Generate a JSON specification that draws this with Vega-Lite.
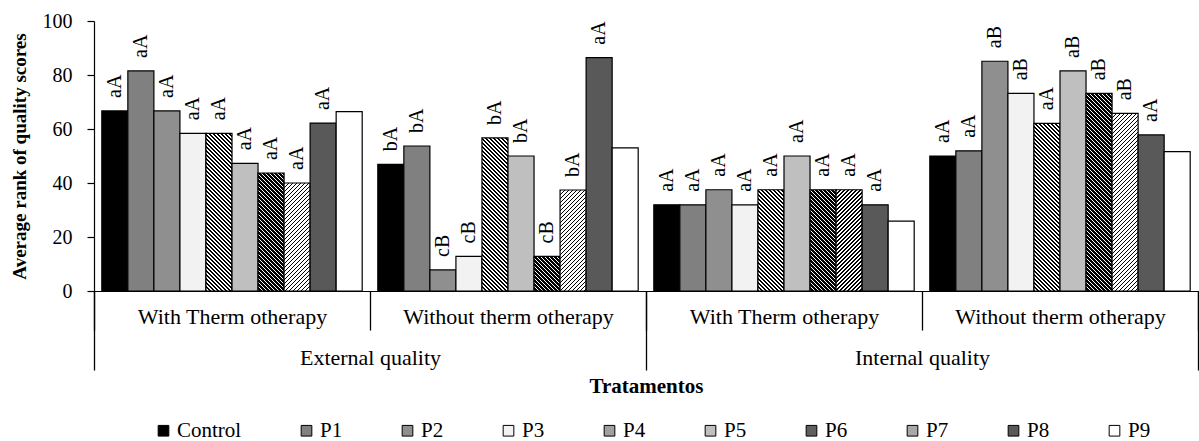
{
  "$schema": "https://vega.github.io/schema/vega-lite/v6.json",
  "width": 1104,
  "height": 270,
  "autosize": {"type": "none"},
  "padding": {"left": 94, "top": 21, "right": 1, "bottom": 150},
  "background": "white",
  "config": {"view": {"stroke": null}, "font": "Liberation Serif", "axis": {"grid": false}},
  "params": [
    {"name": "thinStops", "value": [
{"offset":0,"color":"#000"},{"offset":0.006,"color":"#000"},{"offset":0.006,"color":"#fff"},{"offset":0.016,"color":"#fff"},
{"offset":0.016,"color":"#000"},{"offset":0.022,"color":"#000"},{"offset":0.022,"color":"#fff"},{"offset":0.032,"color":"#fff"},
{"offset":0.032,"color":"#000"},{"offset":0.038,"color":"#000"},{"offset":0.038,"color":"#fff"},{"offset":0.048,"color":"#fff"},
{"offset":0.048,"color":"#000"},{"offset":0.054,"color":"#000"},{"offset":0.054,"color":"#fff"},{"offset":0.064,"color":"#fff"},
{"offset":0.064,"color":"#000"},{"offset":0.07,"color":"#000"},{"offset":0.07,"color":"#fff"},{"offset":0.08,"color":"#fff"},
{"offset":0.08,"color":"#000"},{"offset":0.086,"color":"#000"},{"offset":0.086,"color":"#fff"},{"offset":0.096,"color":"#fff"},
{"offset":0.096,"color":"#000"},{"offset":0.102,"color":"#000"},{"offset":0.102,"color":"#fff"},{"offset":0.112,"color":"#fff"},
{"offset":0.112,"color":"#000"},{"offset":0.118,"color":"#000"},{"offset":0.118,"color":"#fff"},{"offset":0.128,"color":"#fff"},
{"offset":0.128,"color":"#000"},{"offset":0.134,"color":"#000"},{"offset":0.134,"color":"#fff"},{"offset":0.144,"color":"#fff"},
{"offset":0.144,"color":"#000"},{"offset":0.15,"color":"#000"},{"offset":0.15,"color":"#fff"},{"offset":0.16,"color":"#fff"},
{"offset":0.16,"color":"#000"},{"offset":0.166,"color":"#000"},{"offset":0.166,"color":"#fff"},{"offset":0.176,"color":"#fff"},
{"offset":0.176,"color":"#000"},{"offset":0.182,"color":"#000"},{"offset":0.182,"color":"#fff"},{"offset":0.192,"color":"#fff"},
{"offset":0.192,"color":"#000"},{"offset":0.198,"color":"#000"},{"offset":0.198,"color":"#fff"},{"offset":0.208,"color":"#fff"},
{"offset":0.208,"color":"#000"},{"offset":0.214,"color":"#000"},{"offset":0.214,"color":"#fff"},{"offset":0.224,"color":"#fff"},
{"offset":0.224,"color":"#000"},{"offset":0.23,"color":"#000"},{"offset":0.23,"color":"#fff"},{"offset":0.24,"color":"#fff"},
{"offset":0.24,"color":"#000"},{"offset":0.246,"color":"#000"},{"offset":0.246,"color":"#fff"},{"offset":0.256,"color":"#fff"},
{"offset":0.256,"color":"#000"},{"offset":0.262,"color":"#000"},{"offset":0.262,"color":"#fff"},{"offset":0.272,"color":"#fff"},
{"offset":0.272,"color":"#000"},{"offset":0.278,"color":"#000"},{"offset":0.278,"color":"#fff"},{"offset":0.288,"color":"#fff"},
{"offset":0.288,"color":"#000"},{"offset":0.294,"color":"#000"},{"offset":0.294,"color":"#fff"},{"offset":0.304,"color":"#fff"},
{"offset":0.304,"color":"#000"},{"offset":0.31,"color":"#000"},{"offset":0.31,"color":"#fff"},{"offset":0.32,"color":"#fff"},
{"offset":0.32,"color":"#000"},{"offset":0.326,"color":"#000"},{"offset":0.326,"color":"#fff"},{"offset":0.336,"color":"#fff"},
{"offset":0.336,"color":"#000"},{"offset":0.342,"color":"#000"},{"offset":0.342,"color":"#fff"},{"offset":0.352,"color":"#fff"},
{"offset":0.352,"color":"#000"},{"offset":0.358,"color":"#000"},{"offset":0.358,"color":"#fff"},{"offset":0.368,"color":"#fff"},
{"offset":0.368,"color":"#000"},{"offset":0.374,"color":"#000"},{"offset":0.374,"color":"#fff"},{"offset":0.384,"color":"#fff"},
{"offset":0.384,"color":"#000"},{"offset":0.39,"color":"#000"},{"offset":0.39,"color":"#fff"},{"offset":0.4,"color":"#fff"},
{"offset":0.4,"color":"#000"},{"offset":0.406,"color":"#000"},{"offset":0.406,"color":"#fff"},{"offset":0.416,"color":"#fff"},
{"offset":0.416,"color":"#000"},{"offset":0.422,"color":"#000"},{"offset":0.422,"color":"#fff"},{"offset":0.432,"color":"#fff"},
{"offset":0.432,"color":"#000"},{"offset":0.438,"color":"#000"},{"offset":0.438,"color":"#fff"},{"offset":0.448,"color":"#fff"},
{"offset":0.448,"color":"#000"},{"offset":0.454,"color":"#000"},{"offset":0.454,"color":"#fff"},{"offset":0.464,"color":"#fff"},
{"offset":0.464,"color":"#000"},{"offset":0.47,"color":"#000"},{"offset":0.47,"color":"#fff"},{"offset":0.48,"color":"#fff"},
{"offset":0.48,"color":"#000"},{"offset":0.486,"color":"#000"},{"offset":0.486,"color":"#fff"},{"offset":0.496,"color":"#fff"},
{"offset":0.496,"color":"#000"},{"offset":0.502,"color":"#000"},{"offset":0.502,"color":"#fff"},{"offset":0.512,"color":"#fff"},
{"offset":0.512,"color":"#000"},{"offset":0.518,"color":"#000"},{"offset":0.518,"color":"#fff"},{"offset":0.528,"color":"#fff"},
{"offset":0.528,"color":"#000"},{"offset":0.534,"color":"#000"},{"offset":0.534,"color":"#fff"},{"offset":0.544,"color":"#fff"},
{"offset":0.544,"color":"#000"},{"offset":0.55,"color":"#000"},{"offset":0.55,"color":"#fff"},{"offset":0.56,"color":"#fff"},
{"offset":0.56,"color":"#000"},{"offset":0.566,"color":"#000"},{"offset":0.566,"color":"#fff"},{"offset":0.576,"color":"#fff"},
{"offset":0.576,"color":"#000"},{"offset":0.582,"color":"#000"},{"offset":0.582,"color":"#fff"},{"offset":0.592,"color":"#fff"},
{"offset":0.592,"color":"#000"},{"offset":0.598,"color":"#000"},{"offset":0.598,"color":"#fff"},{"offset":0.608,"color":"#fff"},
{"offset":0.608,"color":"#000"},{"offset":0.614,"color":"#000"},{"offset":0.614,"color":"#fff"},{"offset":0.624,"color":"#fff"},
{"offset":0.624,"color":"#000"},{"offset":0.63,"color":"#000"},{"offset":0.63,"color":"#fff"},{"offset":0.64,"color":"#fff"},
{"offset":0.64,"color":"#000"},{"offset":0.646,"color":"#000"},{"offset":0.646,"color":"#fff"},{"offset":0.656,"color":"#fff"},
{"offset":0.656,"color":"#000"},{"offset":0.662,"color":"#000"},{"offset":0.662,"color":"#fff"},{"offset":0.672,"color":"#fff"},
{"offset":0.672,"color":"#000"},{"offset":0.678,"color":"#000"},{"offset":0.678,"color":"#fff"},{"offset":0.688,"color":"#fff"},
{"offset":0.688,"color":"#000"},{"offset":0.694,"color":"#000"},{"offset":0.694,"color":"#fff"},{"offset":0.704,"color":"#fff"},
{"offset":0.704,"color":"#000"},{"offset":0.71,"color":"#000"},{"offset":0.71,"color":"#fff"},{"offset":0.72,"color":"#fff"},
{"offset":0.72,"color":"#000"},{"offset":0.726,"color":"#000"},{"offset":0.726,"color":"#fff"},{"offset":0.736,"color":"#fff"},
{"offset":0.736,"color":"#000"},{"offset":0.742,"color":"#000"},{"offset":0.742,"color":"#fff"},{"offset":0.752,"color":"#fff"},
{"offset":0.752,"color":"#000"},{"offset":0.758,"color":"#000"},{"offset":0.758,"color":"#fff"},{"offset":0.768,"color":"#fff"},
{"offset":0.768,"color":"#000"},{"offset":0.774,"color":"#000"},{"offset":0.774,"color":"#fff"},{"offset":0.784,"color":"#fff"},
{"offset":0.784,"color":"#000"},{"offset":0.79,"color":"#000"},{"offset":0.79,"color":"#fff"},{"offset":0.8,"color":"#fff"},
{"offset":0.8,"color":"#000"},{"offset":0.806,"color":"#000"},{"offset":0.806,"color":"#fff"},{"offset":0.816,"color":"#fff"},
{"offset":0.816,"color":"#000"},{"offset":0.822,"color":"#000"},{"offset":0.822,"color":"#fff"},{"offset":0.832,"color":"#fff"},
{"offset":0.832,"color":"#000"},{"offset":0.838,"color":"#000"},{"offset":0.838,"color":"#fff"},{"offset":0.848,"color":"#fff"}
    ]},
    {"name": "thickStops", "value": [
{"offset":0,"color":"#fff"},{"offset":0.006,"color":"#fff"},{"offset":0.006,"color":"#000"},{"offset":0.016,"color":"#000"},
{"offset":0.016,"color":"#fff"},{"offset":0.022,"color":"#fff"},{"offset":0.022,"color":"#000"},{"offset":0.032,"color":"#000"},
{"offset":0.032,"color":"#fff"},{"offset":0.038,"color":"#fff"},{"offset":0.038,"color":"#000"},{"offset":0.048,"color":"#000"},
{"offset":0.048,"color":"#fff"},{"offset":0.054,"color":"#fff"},{"offset":0.054,"color":"#000"},{"offset":0.064,"color":"#000"},
{"offset":0.064,"color":"#fff"},{"offset":0.07,"color":"#fff"},{"offset":0.07,"color":"#000"},{"offset":0.08,"color":"#000"},
{"offset":0.08,"color":"#fff"},{"offset":0.086,"color":"#fff"},{"offset":0.086,"color":"#000"},{"offset":0.096,"color":"#000"},
{"offset":0.096,"color":"#fff"},{"offset":0.102,"color":"#fff"},{"offset":0.102,"color":"#000"},{"offset":0.112,"color":"#000"},
{"offset":0.112,"color":"#fff"},{"offset":0.118,"color":"#fff"},{"offset":0.118,"color":"#000"},{"offset":0.128,"color":"#000"},
{"offset":0.128,"color":"#fff"},{"offset":0.134,"color":"#fff"},{"offset":0.134,"color":"#000"},{"offset":0.144,"color":"#000"},
{"offset":0.144,"color":"#fff"},{"offset":0.15,"color":"#fff"},{"offset":0.15,"color":"#000"},{"offset":0.16,"color":"#000"},
{"offset":0.16,"color":"#fff"},{"offset":0.166,"color":"#fff"},{"offset":0.166,"color":"#000"},{"offset":0.176,"color":"#000"},
{"offset":0.176,"color":"#fff"},{"offset":0.182,"color":"#fff"},{"offset":0.182,"color":"#000"},{"offset":0.192,"color":"#000"},
{"offset":0.192,"color":"#fff"},{"offset":0.198,"color":"#fff"},{"offset":0.198,"color":"#000"},{"offset":0.208,"color":"#000"},
{"offset":0.208,"color":"#fff"},{"offset":0.214,"color":"#fff"},{"offset":0.214,"color":"#000"},{"offset":0.224,"color":"#000"},
{"offset":0.224,"color":"#fff"},{"offset":0.23,"color":"#fff"},{"offset":0.23,"color":"#000"},{"offset":0.24,"color":"#000"},
{"offset":0.24,"color":"#fff"},{"offset":0.246,"color":"#fff"},{"offset":0.246,"color":"#000"},{"offset":0.256,"color":"#000"},
{"offset":0.256,"color":"#fff"},{"offset":0.262,"color":"#fff"},{"offset":0.262,"color":"#000"},{"offset":0.272,"color":"#000"},
{"offset":0.272,"color":"#fff"},{"offset":0.278,"color":"#fff"},{"offset":0.278,"color":"#000"},{"offset":0.288,"color":"#000"},
{"offset":0.288,"color":"#fff"},{"offset":0.294,"color":"#fff"},{"offset":0.294,"color":"#000"},{"offset":0.304,"color":"#000"},
{"offset":0.304,"color":"#fff"},{"offset":0.31,"color":"#fff"},{"offset":0.31,"color":"#000"},{"offset":0.32,"color":"#000"},
{"offset":0.32,"color":"#fff"},{"offset":0.326,"color":"#fff"},{"offset":0.326,"color":"#000"},{"offset":0.336,"color":"#000"},
{"offset":0.336,"color":"#fff"},{"offset":0.342,"color":"#fff"},{"offset":0.342,"color":"#000"},{"offset":0.352,"color":"#000"},
{"offset":0.352,"color":"#fff"},{"offset":0.358,"color":"#fff"},{"offset":0.358,"color":"#000"},{"offset":0.368,"color":"#000"},
{"offset":0.368,"color":"#fff"},{"offset":0.374,"color":"#fff"},{"offset":0.374,"color":"#000"},{"offset":0.384,"color":"#000"},
{"offset":0.384,"color":"#fff"},{"offset":0.39,"color":"#fff"},{"offset":0.39,"color":"#000"},{"offset":0.4,"color":"#000"},
{"offset":0.4,"color":"#fff"},{"offset":0.406,"color":"#fff"},{"offset":0.406,"color":"#000"},{"offset":0.416,"color":"#000"},
{"offset":0.416,"color":"#fff"},{"offset":0.422,"color":"#fff"},{"offset":0.422,"color":"#000"},{"offset":0.432,"color":"#000"},
{"offset":0.432,"color":"#fff"},{"offset":0.438,"color":"#fff"},{"offset":0.438,"color":"#000"},{"offset":0.448,"color":"#000"},
{"offset":0.448,"color":"#fff"},{"offset":0.454,"color":"#fff"},{"offset":0.454,"color":"#000"},{"offset":0.464,"color":"#000"},
{"offset":0.464,"color":"#fff"},{"offset":0.47,"color":"#fff"},{"offset":0.47,"color":"#000"},{"offset":0.48,"color":"#000"},
{"offset":0.48,"color":"#fff"},{"offset":0.486,"color":"#fff"},{"offset":0.486,"color":"#000"},{"offset":0.496,"color":"#000"},
{"offset":0.496,"color":"#fff"},{"offset":0.502,"color":"#fff"},{"offset":0.502,"color":"#000"},{"offset":0.512,"color":"#000"},
{"offset":0.512,"color":"#fff"},{"offset":0.518,"color":"#fff"},{"offset":0.518,"color":"#000"},{"offset":0.528,"color":"#000"},
{"offset":0.528,"color":"#fff"},{"offset":0.534,"color":"#fff"},{"offset":0.534,"color":"#000"},{"offset":0.544,"color":"#000"},
{"offset":0.544,"color":"#fff"},{"offset":0.55,"color":"#fff"},{"offset":0.55,"color":"#000"},{"offset":0.56,"color":"#000"},
{"offset":0.56,"color":"#fff"},{"offset":0.566,"color":"#fff"},{"offset":0.566,"color":"#000"},{"offset":0.576,"color":"#000"},
{"offset":0.576,"color":"#fff"},{"offset":0.582,"color":"#fff"},{"offset":0.582,"color":"#000"},{"offset":0.592,"color":"#000"},
{"offset":0.592,"color":"#fff"},{"offset":0.598,"color":"#fff"},{"offset":0.598,"color":"#000"},{"offset":0.608,"color":"#000"},
{"offset":0.608,"color":"#fff"},{"offset":0.614,"color":"#fff"},{"offset":0.614,"color":"#000"},{"offset":0.624,"color":"#000"},
{"offset":0.624,"color":"#fff"},{"offset":0.63,"color":"#fff"},{"offset":0.63,"color":"#000"},{"offset":0.64,"color":"#000"},
{"offset":0.64,"color":"#fff"},{"offset":0.646,"color":"#fff"},{"offset":0.646,"color":"#000"},{"offset":0.656,"color":"#000"},
{"offset":0.656,"color":"#fff"},{"offset":0.662,"color":"#fff"},{"offset":0.662,"color":"#000"},{"offset":0.672,"color":"#000"},
{"offset":0.672,"color":"#fff"},{"offset":0.678,"color":"#fff"},{"offset":0.678,"color":"#000"},{"offset":0.688,"color":"#000"},
{"offset":0.688,"color":"#fff"},{"offset":0.694,"color":"#fff"},{"offset":0.694,"color":"#000"},{"offset":0.704,"color":"#000"},
{"offset":0.704,"color":"#fff"},{"offset":0.71,"color":"#fff"},{"offset":0.71,"color":"#000"},{"offset":0.72,"color":"#000"},
{"offset":0.72,"color":"#fff"},{"offset":0.726,"color":"#fff"},{"offset":0.726,"color":"#000"},{"offset":0.736,"color":"#000"},
{"offset":0.736,"color":"#fff"},{"offset":0.742,"color":"#fff"},{"offset":0.742,"color":"#000"},{"offset":0.752,"color":"#000"},
{"offset":0.752,"color":"#fff"},{"offset":0.758,"color":"#fff"},{"offset":0.758,"color":"#000"},{"offset":0.768,"color":"#000"},
{"offset":0.768,"color":"#fff"},{"offset":0.774,"color":"#fff"},{"offset":0.774,"color":"#000"},{"offset":0.784,"color":"#000"},
{"offset":0.784,"color":"#fff"},{"offset":0.79,"color":"#fff"},{"offset":0.79,"color":"#000"},{"offset":0.8,"color":"#000"},
{"offset":0.8,"color":"#fff"},{"offset":0.806,"color":"#fff"},{"offset":0.806,"color":"#000"},{"offset":0.816,"color":"#000"},
{"offset":0.816,"color":"#fff"},{"offset":0.822,"color":"#fff"},{"offset":0.822,"color":"#000"},{"offset":0.832,"color":"#000"},
{"offset":0.832,"color":"#fff"},{"offset":0.838,"color":"#fff"},{"offset":0.838,"color":"#000"},{"offset":0.848,"color":"#000"},
{"offset":0.848,"color":"#fff"},{"offset":0.854,"color":"#fff"},{"offset":0.854,"color":"#000"},{"offset":0.864,"color":"#000"},
{"offset":0.864,"color":"#fff"},{"offset":0.87,"color":"#fff"},{"offset":0.87,"color":"#000"},{"offset":0.88,"color":"#000"},
{"offset":0.88,"color":"#fff"},{"offset":0.886,"color":"#fff"},{"offset":0.886,"color":"#000"},{"offset":0.896,"color":"#000"},
{"offset":0.896,"color":"#fff"},{"offset":0.902,"color":"#fff"},{"offset":0.902,"color":"#000"},{"offset":0.912,"color":"#000"}
    ]}
  ],
  "data": {"values": [
    {"group": "External quality|With Therm otherapy", "quality": "External quality", "treatment": "Control", "value": 66.7, "label": "aA"},
    {"group": "External quality|With Therm otherapy", "quality": "External quality", "treatment": "P1", "value": 81.5, "label": "aA"},
    {"group": "External quality|With Therm otherapy", "quality": "External quality", "treatment": "P2", "value": 66.7, "label": "aA"},
    {"group": "External quality|With Therm otherapy", "quality": "External quality", "treatment": "P3", "value": 58.4, "label": "aA"},
    {"group": "External quality|With Therm otherapy", "quality": "External quality", "treatment": "P4", "value": 58.4, "label": "aA"},
    {"group": "External quality|With Therm otherapy", "quality": "External quality", "treatment": "P5", "value": 47.3, "label": "aA"},
    {"group": "External quality|With Therm otherapy", "quality": "External quality", "treatment": "P6", "value": 43.7, "label": "aA"},
    {"group": "External quality|With Therm otherapy", "quality": "External quality", "treatment": "P7", "value": 40.0, "label": "aA"},
    {"group": "External quality|With Therm otherapy", "quality": "External quality", "treatment": "P8", "value": 62.2, "label": "aA"},
    {"group": "External quality|With Therm otherapy", "quality": "External quality", "treatment": "P9", "value": 66.4, "label": ""},
    {"group": "External quality|Without therm otherapy", "quality": "External quality", "treatment": "Control", "value": 46.9, "label": "bA"},
    {"group": "External quality|Without therm otherapy", "quality": "External quality", "treatment": "P1", "value": 53.7, "label": "bA"},
    {"group": "External quality|Without therm otherapy", "quality": "External quality", "treatment": "P2", "value": 7.8, "label": "cB"},
    {"group": "External quality|Without therm otherapy", "quality": "External quality", "treatment": "P3", "value": 12.8, "label": "cB"},
    {"group": "External quality|Without therm otherapy", "quality": "External quality", "treatment": "P4", "value": 56.7, "label": "bA"},
    {"group": "External quality|Without therm otherapy", "quality": "External quality", "treatment": "P5", "value": 50.0, "label": "bA"},
    {"group": "External quality|Without therm otherapy", "quality": "External quality", "treatment": "P6", "value": 12.8, "label": "cB"},
    {"group": "External quality|Without therm otherapy", "quality": "External quality", "treatment": "P7", "value": 37.4, "label": "bA"},
    {"group": "External quality|Without therm otherapy", "quality": "External quality", "treatment": "P8", "value": 86.4, "label": "aA"},
    {"group": "External quality|Without therm otherapy", "quality": "External quality", "treatment": "P9", "value": 53.0, "label": ""},
    {"group": "Internal quality|With Therm otherapy", "quality": "Internal quality", "treatment": "Control", "value": 31.9, "label": "aA"},
    {"group": "Internal quality|With Therm otherapy", "quality": "Internal quality", "treatment": "P1", "value": 31.9, "label": "aA"},
    {"group": "Internal quality|With Therm otherapy", "quality": "Internal quality", "treatment": "P2", "value": 37.5, "label": "aA"},
    {"group": "Internal quality|With Therm otherapy", "quality": "Internal quality", "treatment": "P3", "value": 31.9, "label": "aA"},
    {"group": "Internal quality|With Therm otherapy", "quality": "Internal quality", "treatment": "P4", "value": 37.5, "label": "aA"},
    {"group": "Internal quality|With Therm otherapy", "quality": "Internal quality", "treatment": "P5", "value": 50.0, "label": "aA"},
    {"group": "Internal quality|With Therm otherapy", "quality": "Internal quality", "treatment": "P6", "value": 37.5, "label": "aA"},
    {"group": "Internal quality|With Therm otherapy", "quality": "Internal quality", "treatment": "P7", "value": 37.5, "label": "aA"},
    {"group": "Internal quality|With Therm otherapy", "quality": "Internal quality", "treatment": "P8", "value": 31.9, "label": "aA"},
    {"group": "Internal quality|With Therm otherapy", "quality": "Internal quality", "treatment": "P9", "value": 25.9, "label": ""},
    {"group": "Internal quality|Without therm otherapy", "quality": "Internal quality", "treatment": "Control", "value": 50.0, "label": "aA"},
    {"group": "Internal quality|Without therm otherapy", "quality": "Internal quality", "treatment": "P1", "value": 51.9, "label": "aA"},
    {"group": "Internal quality|Without therm otherapy", "quality": "Internal quality", "treatment": "P2", "value": 85.1, "label": "aB"},
    {"group": "Internal quality|Without therm otherapy", "quality": "Internal quality", "treatment": "P3", "value": 73.2, "label": "aB"},
    {"group": "Internal quality|Without therm otherapy", "quality": "Internal quality", "treatment": "P4", "value": 62.1, "label": "aA"},
    {"group": "Internal quality|Without therm otherapy", "quality": "Internal quality", "treatment": "P5", "value": 81.5, "label": "aB"},
    {"group": "Internal quality|Without therm otherapy", "quality": "Internal quality", "treatment": "P6", "value": 73.2, "label": "aB"},
    {"group": "Internal quality|Without therm otherapy", "quality": "Internal quality", "treatment": "P7", "value": 65.8, "label": "aB"},
    {"group": "Internal quality|Without therm otherapy", "quality": "Internal quality", "treatment": "P8", "value": 57.8, "label": "aA"},
    {"group": "Internal quality|Without therm otherapy", "quality": "Internal quality", "treatment": "P9", "value": 51.6, "label": ""}
  ]},
  "layer": [
    {
      "layer": [
        {
          "mark": {"type": "bar", "stroke": "black", "strokeWidth": 1.2},
          "encoding": {
            "x": {
              "field": "group", "type": "nominal",
              "scale": {"domain": ["External quality|With Therm otherapy", "External quality|Without therm otherapy", "Internal quality|With Therm otherapy", "Internal quality|Without therm otherapy"], "paddingInner": 0, "paddingOuter": 0},
              "axis": {"title": null, "labelExpr": "split(datum.value, '|')[1]", "labelLimit": 0, "tickBand": "extent", "tickSize": 39, "tickWidth": 1.3, "tickColor": "black", "labelPadding": -24, "labelFont": "Liberation Serif", "labelFontSize": 22, "labelColor": "black", "labelAngle": 0, "domainColor": "black", "domainWidth": 1.2}
            },
            "xOffset": {"field": "treatment", "type": "nominal", "scale": {"domain": ["Control", "P1", "P2", "P3", "P4", "P5", "P6", "P7", "P8", "P9"], "paddingInner": 0, "paddingOuter": 0.3}},
            "y": {
              "field": "value", "type": "quantitative",
              "scale": {"domain": [0, 100], "nice": false},
              "axis": {"title": "Average rank of quality scores", "titleFont": "Liberation Serif", "titleFontSize": 19, "titleFontWeight": "bold", "titleColor": "black", "titlePadding": 13, "values": [0, 20, 40, 60, 80, 100], "tickSize": 7, "tickColor": "black", "tickWidth": 1.2, "labelPadding": 15, "labelFont": "Liberation Serif", "labelFontSize": 20, "labelColor": "black", "domainColor": "black", "domainWidth": 1.2}
            },
            "fill": {
              "condition": [
                {"test": "datum.treatment === 'P4'", "value": {"expr": "{gradient: 'linear', x1: 0, y1: 1, x2: (width/42.4)*250/(pow(width/42.4,2)+pow(height*datum.value/100,2)), y2: 1-(height*datum.value/100)*250/(pow(width/42.4,2)+pow(height*datum.value/100,2)), stops: thinStops}"}},
                {"test": "datum.treatment === 'P6'", "value": {"expr": "{gradient: 'linear', x1: 0, y1: 1, x2: (width/42.4)*250/(pow(width/42.4,2)+pow(height*datum.value/100,2)), y2: 1-(height*datum.value/100)*250/(pow(width/42.4,2)+pow(height*datum.value/100,2)), stops: thickStops}"}},
                {"test": "datum.treatment === 'P7'", "value": {"expr": "{gradient: 'linear', x1: 0, y1: 0, x2: (width/42.4)*250/(pow(width/42.4,2)+pow(height*datum.value/100,2)), y2: (height*datum.value/100)*250/(pow(width/42.4,2)+pow(height*datum.value/100,2)), stops: thinStops}"}}
              ],
              "field": "treatment", "type": "nominal",
              "scale": {"domain": ["Control", "P1", "P2", "P3", "P4", "P5", "P6", "P7", "P8", "P9"], "range": ["#000000", "#808080", "#8f8f8f", "#f2f2f2", "#a0a0a0", "#bfbfbf", "#606060", "#a8a8a8", "#595959", "#ffffff"]},
              "legend": {"orient": "none", "legendX": 59, "legendY": 399, "direction": "horizontal", "columns": 10, "title": null, "symbolType": "square", "symbolSize": 114, "symbolStrokeColor": "black", "symbolStrokeWidth": 1, "symbolOpacity": 1, "labelFont": "Liberation Serif", "labelFontSize": 21, "labelColor": "black", "columnPadding": 54, "labelOffset": 3}
            }
          }
        },
        {
          "transform": [{"filter": "datum.label != ''"}],
          "mark": {"type": "text", "angle": 270, "align": "left", "baseline": "middle", "dx": 13, "font": "Liberation Serif", "fontSize": 20, "color": "black"},
          "encoding": {
            "x": {"field": "group", "type": "nominal"},
            "xOffset": {"field": "treatment", "type": "nominal"},
            "y": {"field": "value", "type": "quantitative"},
            "text": {"field": "label"}
          }
        }
      ]
    },
    {
      "mark": {"type": "point", "opacity": 0},
      "encoding": {
        "x": {
          "field": "quality", "type": "nominal",
          "scale": {"domain": ["External quality", "Internal quality"], "paddingInner": 0, "paddingOuter": 0},
          "axis": {"orient": "bottom", "title": "Tratamentos", "titleFont": "Liberation Serif", "titleFontWeight": "bold", "titleFontSize": 21, "titleColor": "black", "titlePadding": 5, "tickBand": "extent", "tickSize": 79, "tickWidth": 1.3, "tickColor": "black", "labelPadding": -23, "labelLimit": 0, "labelFont": "Liberation Serif", "labelFontSize": 22, "labelColor": "black", "labelAngle": 0, "domainColor": "black", "domainWidth": 1.2}
        }
      }
    }
  ],
  "resolve": {"scale": {"x": "independent"}, "axis": {"x": "independent"}}
}
